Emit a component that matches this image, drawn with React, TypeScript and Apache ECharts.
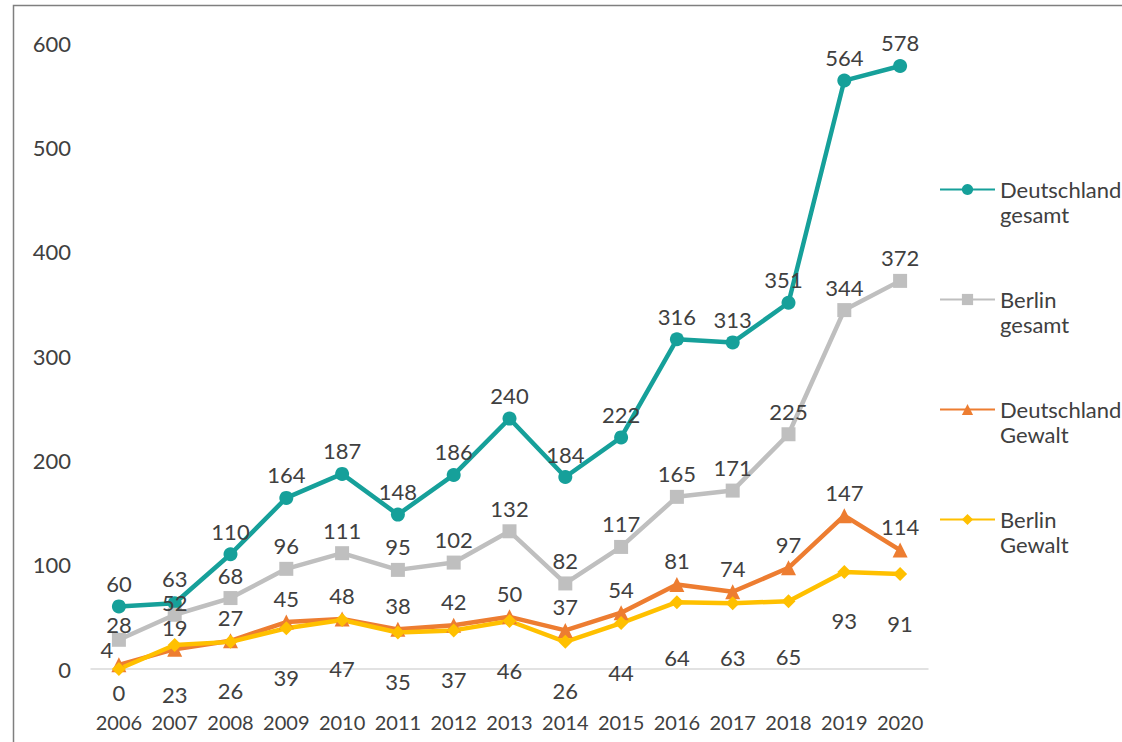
import React, { useEffect, useRef } from "react";
import * as echarts from "echarts";

const years = ["2006", "2007", "2008", "2009", "2010", "2011", "2012", "2013", "2014", "2015", "2016", "2017", "2018", "2019", "2020"];
const deutschlandGesamt = [60, 63, 110, 164, 187, 148, 186, 240, 184, 222, 316, 313, 351, 564, 578];
const berlinGesamt = [28, 52, 68, 96, 111, 95, 102, 132, 82, 117, 165, 171, 225, 344, 372];
const deutschlandGewalt = [4, 19, 27, 45, 48, 38, 42, 50, 37, 54, 81, 74, 97, 147, 114];
const berlinGewalt = [0, 23, 26, 39, 47, 35, 37, 46, 26, 44, 64, 63, 65, 93, 91];
const yTicks = [0, 100, 200, 300, 400, 500, 600];

const FONT = "Lato";
const TEXT = "#404040";

function withLabelTweaks(values: number[], tweaks: Record<number, any>) {
  return values.map((v, i) => (tweaks[i] ? { value: v, label: tweaks[i] } : v));
}

export default function App() {
  const ref = useRef<HTMLDivElement>(null);
  useEffect(() => {
    document.body.style.margin = "0";
    const chart = echarts.init(ref.current!, null, { renderer: "svg" });
    const labelBase = { show: true, fontFamily: FONT, fontSize: 22, color: TEXT, lineHeight: 20 };
    const mk = (name: string, color: string, symbol: string, size: number, data: any[], label: any) => ({
      name,
      type: "line",
      data,
      symbol,
      symbolSize: size,
      showSymbol: true,
      lineStyle: { color, width: 4.5 },
      itemStyle: { color },
      label: { ...labelBase, ...label },
      z: 2,
    });
    chart.setOption({
      animation: false,
      backgroundColor: "#ffffff",
      textStyle: { fontFamily: FONT },
      graphic: [
        {
          type: "rect",
          shape: { x: 13.5, y: 5.5, width: 1300, height: 900 },
          style: { fill: "none", stroke: "#7f7f7f", lineWidth: 1.5 },
          silent: true,
        },
      ],
      grid: { left: 91, right: 194, top: 43, bottom: 73 },
      legend: {
        orient: "vertical",
        left: 939,
        top: 152,
        padding: 0,
        itemGap: 35,
        itemWidth: 55,
        itemHeight: 14,
        formatter: (n: string) => " \n" + n.replace(" ", "\n"),
        textStyle: { fontFamily: FONT, fontSize: 22, color: TEXT, lineHeight: 25 },
        data: ["Deutschland gesamt", "Berlin gesamt", "Deutschland Gewalt", "Berlin Gewalt"],
      },
      xAxis: {
        type: "category",
        data: years,
        boundaryGap: true,
        axisLine: { lineStyle: { color: "#d9d9d9", width: 1.5 } },
        axisTick: { show: false },
        axisLabel: { fontFamily: FONT, fontSize: 20, color: TEXT, margin: 43, interval: 0 },
      },
      yAxis: {
        type: "value",
        min: yTicks[0],
        max: yTicks[yTicks.length - 1],
        interval: 100,
        splitLine: { show: false },
        axisLine: { show: false },
        axisTick: { show: false },
        axisLabel: { fontFamily: FONT, fontSize: 22, color: TEXT, margin: 20 },
      },
      series: [
        mk("Deutschland gesamt", "#16a09a", "circle", 14, withLabelTweaks(deutschlandGesamt, { 1: { offset: [0, -2] }, 12: { offset: [-5, 0] } }), { position: "top", distance: 6 }),
        mk("Berlin gesamt", "#bfbfbf", "rect", 14, withLabelTweaks(berlinGesamt, { 0: { offset: [0, 8] }, 1: { offset: [0, 11] } }), { position: "top", distance: 6 }),
        mk("Deutschland Gewalt", "#ed7d31", "triangle", 15, withLabelTweaks(deutschlandGewalt, { 0: { offset: [-12, 8] }, 1: { offset: [0, 2] } }), { position: "top", distance: 6 }),
        mk(
          "Berlin Gewalt",
          "#ffc000",
          "diamond",
          14,
          withLabelTweaks(berlinGewalt, { 0: { distance: 6 }, 10: { offset: [0, 6] }, 11: { offset: [0, 5] }, 12: { offset: [0, 6] } }),
          { position: "bottom", distance: 32 }
        ),
      ],
    });
    return () => chart.dispose();
  }, []);
  return <div ref={ref} style={{ width: 1122, height: 742 }} />;
}
